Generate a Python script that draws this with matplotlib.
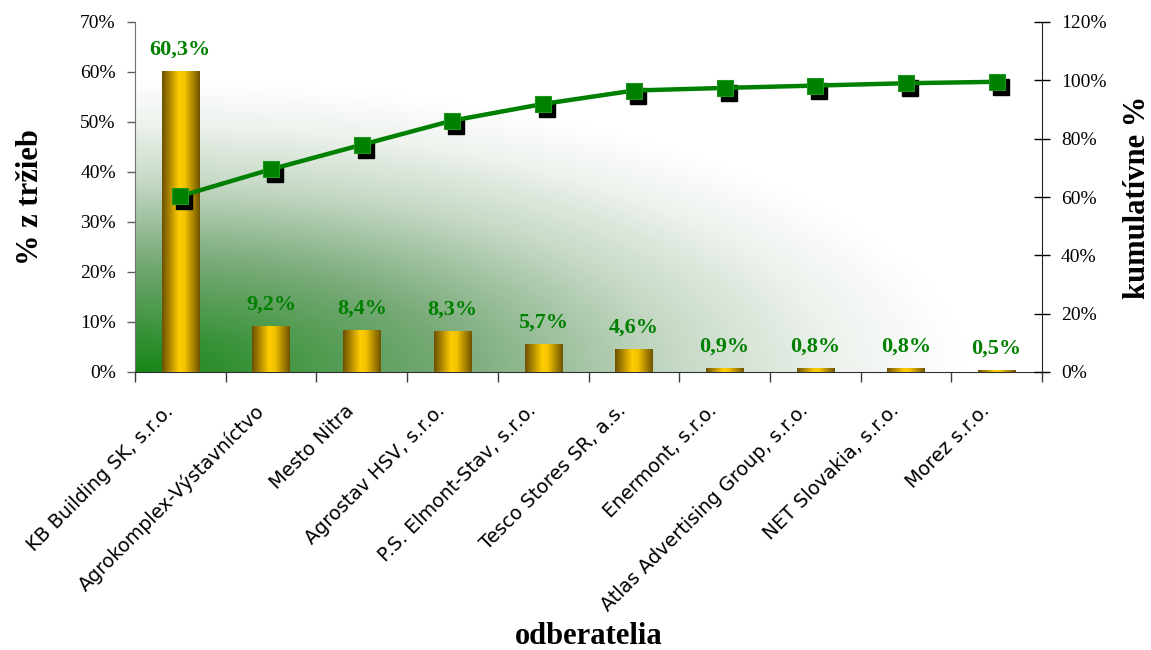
import matplotlib
matplotlib.use("Agg")
import matplotlib.pyplot as plt
import numpy as np
from matplotlib.colors import LinearSegmentedColormap
from matplotlib.transforms import ScaledTranslation

plt.rcParams.update({
    'font.family': ['Liberation Serif', 'DejaVu Serif'],
    'font.size': 14,
})

odberatelia = ["KB Building SK, s.r.o.", "Agrokomplex-Výstavníctvo", "Mesto Nitra",
               "Agrostav HSV, s.r.o.", "P.S. Elmont-Stav, s.r.o.", "Tesco Stores SR, a.s.",
               "Enermont, s.r.o.", "Atlas Advertising Group, s.r.o.", "NET Slovakia, s.r.o.",
               "Morez s.r.o."]
podiel = [60.3, 9.2, 8.4, 8.3, 5.7, 4.6, 0.9, 0.8, 0.8, 0.5]
kumulativne = [60.3, 69.5, 77.9, 86.2, 91.9, 96.5, 97.4, 98.2, 99.0, 99.5]
popisky = ["60,3%", "9,2%", "8,4%", "8,3%", "5,7%", "4,6%", "0,9%", "0,8%", "0,8%", "0,5%"]

zelena = '#008000'

fig = plt.figure(figsize=(11.51, 6.5), dpi=100)
ax = fig.add_axes([135/1151, 1 - 372/650, (1042-135)/1151, 350/650])
ax2 = ax.twinx()

# pozadie - zeleny prechod z laveho dolneho rohu
xx = np.linspace(0, 1, 400)
yy = np.linspace(0, 1, 300)
X, Y = np.meshgrid(xx, yy)
t = np.clip(1 - np.sqrt((X / 0.92) ** 2 + (Y / 0.84) ** 2), 0, 1)
pozadie = LinearSegmentedColormap.from_list('pozadie', [(0, '#ffffff'), (0.15, '#eef3ee'),
                                                        (0.35, '#c6d9c6'), (0.62, '#78aa78'),
                                                        (1, '#168616')])
ax.imshow(t, cmap=pozadie, vmin=0, vmax=1, extent=[0, 1, 0, 1], transform=ax.transAxes,
          origin='lower', aspect='auto', zorder=0, interpolation='bilinear')

# stlpce so zlatym prechodom
x = np.arange(len(podiel))
bars = ax.bar(x, podiel, width=0.41, color='#e0b000', zorder=2, linewidth=0)
zlata = LinearSegmentedColormap.from_list('zlata', [(0, '#6e5200'), (0.45, '#ffcc00'),
                                                    (0.6, '#f5c400'), (1, '#705400')])
grad = np.linspace(0, 1, 64).reshape(1, -1)
for b in bars:
    im = ax.imshow(grad, cmap=zlata, aspect='auto', zorder=3,
                   extent=[b.get_x(), b.get_x() + b.get_width(), 0, b.get_height()])
    im.set_clip_path(b)

for i, (v, s) in enumerate(zip(podiel, popisky)):
    ax.annotate(s, (i, v), xytext=(0, 8), textcoords='offset points', ha='center',
                va='bottom', color=zelena, fontweight='bold', fontsize=16, zorder=5)

ax.set_xlim(-0.5, len(podiel) - 0.5)
ax.set_ylim(0, 70)
ax.set_yticks(np.arange(0, 71, 10))
ax.set_yticklabels([f"{v}%" for v in range(0, 71, 10)])
ax.set_xticks(np.arange(len(podiel) + 1) - 0.5)
ax.set_xticklabels([])
ax.tick_params(axis='x', length=7, width=1, color='#404040')
ax.tick_params(axis='y', length=6, width=1, color='#606060', labelsize=14, pad=7.8)

# popisky kategorii
posun = ScaledTranslation(-17/100, -29/100, fig.dpi_scale_trans)
for i, name in enumerate(odberatelia):
    ax.text(i, 0, name, transform=ax.get_xaxis_transform() + posun, rotation=45,
            rotation_mode='anchor', ha='right', va='top', fontfamily='DejaVu Sans',
            fontsize=13.8)

for sp in ['top', 'right']:
    ax.spines[sp].set_visible(False)
ax.spines['left'].set_color('#707070')
ax.spines['bottom'].set_color('#303030')

ax.set_ylabel("% z tržieb", fontsize=22, fontweight='bold', labelpad=25)
ax.set_xlabel("odberatelia", fontsize=22, fontweight='bold')
ax.xaxis.set_label_coords(0.5, -0.715)

# kumulativna ciara
tien = ax2.transData + ScaledTranslation(4/100, -5/100, fig.dpi_scale_trans)
ax2.plot(x, kumulativne, 's', color='black', markersize=11, transform=tien, zorder=3)
ax2.plot(x, kumulativne, '-s', color=zelena, linewidth=3.2, markersize=11,
         markeredgecolor='#1e961e', markeredgewidth=0.8, zorder=4)
ax2.set_ylim(0, 120)
ax2.set_yticks(np.arange(0, 121, 20))
ax2.set_yticklabels([f"{v}%" for v in range(0, 121, 20)])
ax2.tick_params(axis='y', direction='inout', length=12, width=1, labelsize=14, pad=7.6)
for sp in ['top', 'left', 'bottom']:
    ax2.spines[sp].set_visible(False)
ax2.spines['right'].set_color('#202020')
ax2.set_ylabel("kumulatívne %", fontsize=22, fontweight='bold', labelpad=12)

fig.savefig("out.png", dpi=100)
